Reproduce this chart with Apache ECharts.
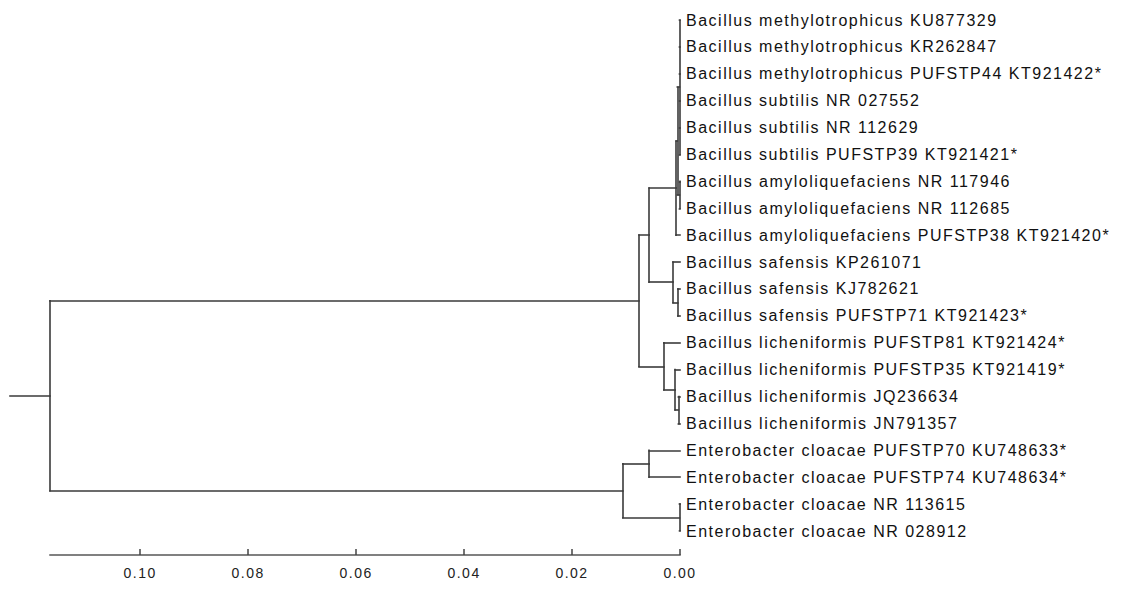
<!DOCTYPE html>
<html><head><meta charset="utf-8">
<script src="https://cdn.jsdelivr.net/npm/echarts@6/dist/echarts.min.js"></script>
<style>
html,body{margin:0;padding:0;background:#fff}
#chart{width:1142px;height:589px}
#chart svg text{letter-spacing:1.5px}
</style></head><body><div id="chart"></div>
<script>
// Leaf labels, top to bottom
const leafLabels = [
  'Bacillus methylotrophicus KU877329',
  'Bacillus methylotrophicus KR262847',
  'Bacillus methylotrophicus PUFSTP44 KT921422*',
  'Bacillus subtilis NR 027552',
  'Bacillus subtilis NR 112629',
  'Bacillus subtilis PUFSTP39 KT921421*',
  'Bacillus amyloliquefaciens NR 117946',
  'Bacillus amyloliquefaciens NR 112685',
  'Bacillus amyloliquefaciens PUFSTP38 KT921420*',
  'Bacillus safensis KP261071',
  'Bacillus safensis KJ782621',
  'Bacillus safensis PUFSTP71 KT921423*',
  'Bacillus licheniformis PUFSTP81 KT921424*',
  'Bacillus licheniformis PUFSTP35 KT921419*',
  'Bacillus licheniformis JQ236634',
  'Bacillus licheniformis JN791357',
  'Enterobacter cloacae PUFSTP70 KU748633*',
  'Enterobacter cloacae PUFSTP74 KU748634*',
  'Enterobacter cloacae NR 113615',
  'Enterobacter cloacae NR 028912'
];
// Internal nodes (children listed top to bottom; "L<i>" = leaf i)
const nodeNames = ['nA','nB','nC','nD','nS1','nS','nE','nL3','nL2','nL','nF','nEn1','nEn2','nEn','root'];
const nodeChildren = [
  ['L0','L1','L2','L3','L4','L5'],
  ['L6','L7'],
  ['nA','nB'],
  ['nC','L8'],
  ['L10','L11'],
  ['L9','nS1'],
  ['nD','nS'],
  ['L14','L15'],
  ['L13','nL3'],
  ['L12','nL2'],
  ['nE','nL'],
  ['L16','L17'],
  ['L18','L19'],
  ['nEn1','nEn2'],
  ['nF','nEn']
];
// Node distance from the tips (scale units)
const nodeDepths = [0.0001,0.0001,0.0005,0.0007,0.0004,0.0013,0.0057,0.0003,0.0009,0.003,0.0076,0.0057,0.0001,0.0106,0.1167];
const rootStubDepth = 0.1241;
// Scale axis
const tickValues = [0.10,0.08,0.06,0.04,0.02,0.00];
const tickLabels = ['0.10','0.08','0.06','0.04','0.02','0.00'];

// ---- build tree segments ----
const pos = {};
leafLabels.forEach((_, i) => { pos['L' + i] = {x: 0, y: i}; });
function place(name) {
  if (pos[name]) return pos[name];
  const k = nodeNames.indexOf(name);
  const kids = nodeChildren[k].map(place);
  pos[name] = {x: nodeDepths[k], y: (kids[0].y + kids[kids.length - 1].y) / 2};
  return pos[name];
}
place('root');
const segs = [];
nodeNames.forEach((name, k) => {
  const p = pos[name];
  const kids = nodeChildren[k].map(c => pos[c]);
  segs.push({coords: [[p.x, kids[0].y], [p.x, kids[kids.length - 1].y]]});
  kids.forEach(c => segs.push({coords: [[p.x, c.y], [c.x, c.y]]}));
});
const rp = pos['root'];
segs.push({coords: [[rootStubDepth, rp.y], [rp.x, rp.y]]});

const chart = echarts.init(document.getElementById('chart'), null, {renderer: 'svg'});
const font = 'Liberation Sans, Arial, sans-serif';
chart.setOption({
  animation: false,
  backgroundColor: '#fff',
  grid: [
    {left: 10, width: 670, top: 20, height: 511},
    {left: 50, width: 630, top: 554, height: 1}
  ],
  xAxis: [
    {gridIndex: 0, type: 'value', min: 0, max: rootStubDepth, inverse: true, show: false},
    {gridIndex: 1, type: 'value', min: 0, max: nodeDepths[nodeDepths.length - 1], inverse: true,
     interval: 0.02, splitLine: {show: false},
     axisLine: {show: true, lineStyle: {color: '#808080', width: 2}},
     axisTick: {show: true, inside: true, length: 6, customValues: tickValues, lineStyle: {color: '#444', width: 1.5}},
     axisLabel: {show: true, customValues: tickValues, margin: 11, color: '#222', fontSize: 14, fontFamily: font,
       formatter: v => { const i = tickValues.findIndex(t => Math.abs(t - v) < 1e-9); return i >= 0 ? tickLabels[i] : ''; }}}
  ],
  yAxis: [
    {gridIndex: 0, type: 'value', min: 0, max: leafLabels.length - 1, inverse: true, interval: 1,
     position: 'right', splitLine: {show: false}, axisLine: {show: false}, axisTick: {show: false},
     axisLabel: {show: true, margin: 6, align: 'left', color: '#111', fontSize: 16, fontFamily: font,
       formatter: v => leafLabels[Math.round(v)] || ''}},
    {gridIndex: 1, type: 'value', show: false, min: 0, max: 1}
  ],
  series: [{
    type: 'lines', coordinateSystem: 'cartesian2d', xAxisIndex: 0, yAxisIndex: 0,
    silent: true, polyline: false,
    lineStyle: {color: '#3a3a3a', width: 1.6, opacity: 1, cap: 'square'},
    data: segs
  }]
});
</script></body></html>
